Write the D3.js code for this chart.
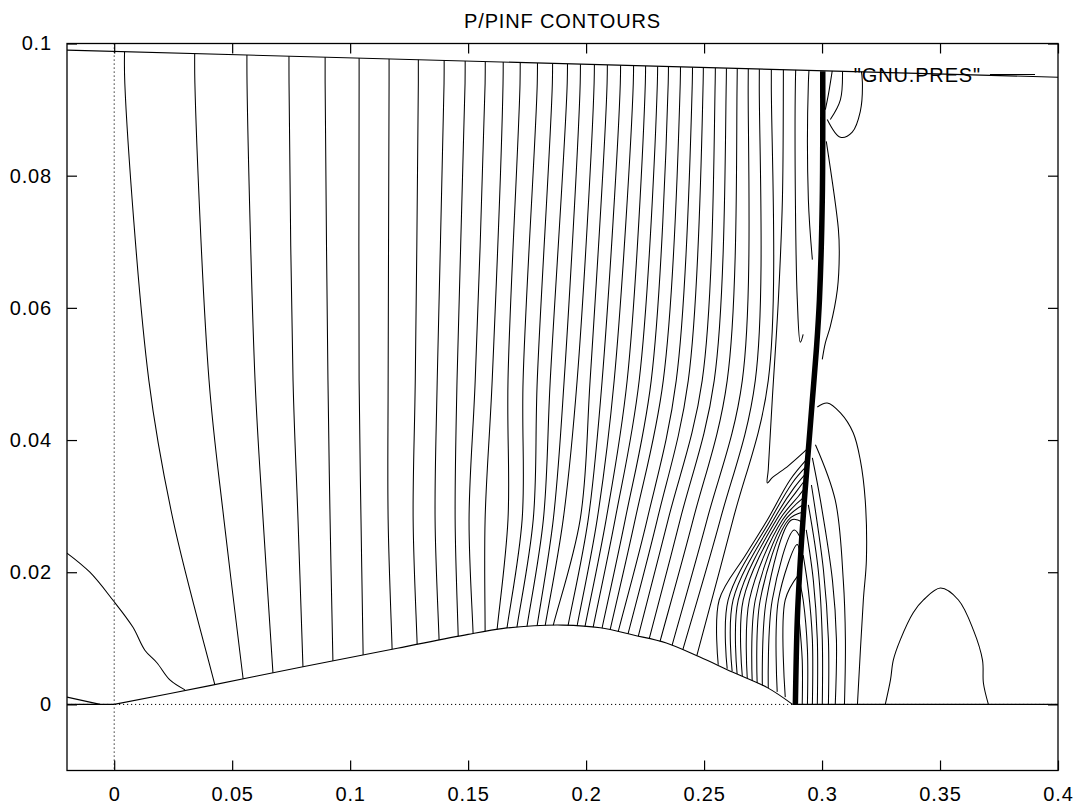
<!DOCTYPE html>
<html><head><meta charset="utf-8">
<script src="https://cdn.jsdelivr.net/npm/d3@7"></script>
<style>body{margin:0;background:#fff}svg{display:block}text{font-family:"Liberation Sans",Arial,sans-serif;fill:#000}</style>
</head><body>
<svg id="c" width="1080" height="808"></svg>
<script>
// ---------- data ----------
const title = "P/PINF CONTOURS";
const seriesName = '"GNU.PRES"';
const xTicks = [0, 0.05, 0.1, 0.15, 0.2, 0.25, 0.3, 0.35, 0.4];
const xTickLabels = ["0", "0.05", "0.1", "0.15", "0.2", "0.25", "0.3", "0.35", "0.4"];
const yTicks = [0, 0.02, 0.04, 0.06, 0.08, 0.1];
const yTickLabels = ["0", "0.02", "0.04", "0.06", "0.08", "0.1"];

// boundaries
const wallX = [-0.02, 0.4];
const wallY = [0.0990, 0.0949];
const bumpX = [0, 0.04, 0.08, 0.12, 0.15, 0.165, 0.178, 0.19, 0.206, 0.22, 0.234, 0.248, 0.262, 0.277, 0.2875];
const bumpY = [0, 0.0028, 0.0057, 0.0085, 0.0106, 0.0115, 0.0119, 0.0120, 0.0116, 0.0105, 0.0093, 0.0072, 0.0049, 0.0025, 0];
const floorLeftX = [-0.02, 0];
const floorRightX = [0.2875, 0.4];

// main contour family: x at y-levels, then end point on the bump
const levelTop = 0.094, levelMid = 0.049, levelLow = 0.028;
const cTop = [0.0045,0.0342,0.0563,0.0741,0.0894,0.1038,0.1165,0.1289,0.1398,0.1487,0.1572,0.1648,0.1720,0.1793,0.1857,0.1920,0.1975,0.2034,0.2089,0.2145,0.2200,0.2251,0.2302,0.2348,0.2399,0.2450,0.2496,0.2547,0.2594,0.2640,0.2687,0.2734,0.2785];
const cMid = [0.0147,0.0402,0.0597,0.0758,0.0906,0.1038,0.1161,0.1276,0.1369,0.1453,0.1530,0.1602,0.1669,0.1733,0.1793,0.1848,0.1907,0.1962,0.2017,0.2068,0.2119,0.2174,0.2225,0.2276,0.2327,0.2382,0.2433,0.2492,0.2543,0.2598,0.2662,0.2717,0.2772];
const cLow = [0.0249,0.0465,0.0631,0.0779,0.0915,0.1046,0.1161,0.1267,0.1360,0.1445,0.1504,0.1572,0.1669,0.1729,0.1776,0.1819,0.1861,0.1903,0.1975,0.2009,0.2047,0.2085,0.2123,0.2166,0.2208,0.2259,0.2302,0.2348,0.2399,0.2454,0.2513,0.2569,0.2623];
const cEndX = [0.0427,0.0546,0.0673,0.0800,0.0927,0.1055,0.1178,0.1284,0.1377,0.1458,0.1521,0.1572,0.1623,0.1665,0.1707,0.1750,0.1793,0.1827,0.1861,0.1924,0.1962,0.1996,0.2030,0.2068,0.2102,0.2136,0.2178,0.2221,0.2268,0.2314,0.2365,0.2411,0.2471];
const cEndY = [0.0029,0.0040,0.0047,0.0057,0.0066,0.0075,0.0082,0.0091,0.0097,0.0103,0.0108,0.0111,0.0114,0.0116,0.0117,0.0119,0.0120,0.0120,0.0120,0.0120,0.0119,0.0119,0.0117,0.0116,0.0113,0.0110,0.0107,0.0103,0.0100,0.0096,0.0090,0.0084,0.0076];

// other contours as [x, y] lists
const leftCurve = [[-0.02,0.0229],[-0.0103,0.0200],[-0.0006,0.0158],[0.0079,0.0117],[0.0130,0.0082],[0.0181,0.0063],[0.0236,0.0037],[0.0300,0.0022]];
const cornerCurve = [[-0.02,0.0011],[-0.0060,0.0]];
const dome = [[0.3268,0],[0.3290,0.0037],[0.3302,0.0067],[0.3332,0.0098],[0.3387,0.0139],[0.3430,0.0158],[0.3502,0.0176],[0.3578,0.0158],[0.3642,0.0112],[0.3680,0.0067],[0.3684,0.0032],[0.3705,0]];
const shock = [[0.3003,0.0958],[0.3001,0.0764],[0.2989,0.0613],[0.2976,0.0537],[0.2959,0.0461],[0.2942,0.0385],[0.2925,0.0309],[0.2908,0.0218],[0.2895,0.0127],[0.2887,0.0]];
const bigLoop = [[0.2980,0.0450],[0.3022,0.0456],[0.3078,0.0441],[0.3132,0.0411],[0.3162,0.0370],[0.3183,0.0309],[0.3188,0.0219],[0.3175,0.0158],[0.3150,0.0]];
const clusterLines = [
 [[0.2560,0.0060],[0.2564,0.0158],[0.2676,0.0226],[0.2768,0.0279],[0.2865,0.0340],[0.2933,0.0370]],
 [[0.2598,0.0054],[0.2602,0.0158],[0.2781,0.0279],[0.2874,0.0335],[0.2933,0.0360]],
 [[0.2619,0.0050],[0.2623,0.0158],[0.2794,0.0279],[0.2882,0.0328],[0.2933,0.0350]],
 [[0.2640,0.0046],[0.2645,0.0158],[0.2806,0.0279],[0.2891,0.0322],[0.2929,0.0340]],
 [[0.2662,0.0043],[0.2666,0.0158],[0.2819,0.0279],[0.2900,0.0315],[0.2929,0.0328]],
 [[0.2683,0.0040],[0.2692,0.0158],[0.2832,0.0279],[0.2925,0.0314]],
 [[0.2704,0.0035],[0.2717,0.0158],[0.2844,0.0279],[0.2920,0.0302]],
 [[0.2725,0.0032],[0.2738,0.0158],[0.2857,0.0279],[0.2920,0.0291]],
 [[0.2747,0.0028],[0.2764,0.0158],[0.2870,0.0279],[0.2916,0.0276]],
 [[0.2772,0.0025],[0.2789,0.0158],[0.2882,0.0264],[0.2912,0.0249]],
 [[0.2810,0.0019],[0.2815,0.0158],[0.2895,0.0242],[0.2908,0.0218]],
 [[0.2844,0.0011],[0.2844,0.0158],[0.2900,0.0196]]
];
const rightLines = [
 [[0.2895,0],[0.2895,0.0037],[0.2891,0.0068]],
 [[0.2916,0],[0.2916,0.0067],[0.2903,0.0128]],
 [[0.2938,0],[0.2938,0.0083],[0.2920,0.0158],[0.2908,0.0181]],
 [[0.2959,0],[0.2959,0.0098],[0.2942,0.0173],[0.2920,0.0226]],
 [[0.2980,0],[0.2980,0.0098],[0.2963,0.0188],[0.2933,0.0264]],
 [[0.3001,0],[0.3001,0.0098],[0.2984,0.0203],[0.2942,0.0302]],
 [[0.3027,0],[0.3027,0.0098],[0.3006,0.0203],[0.2955,0.0332]],
 [[0.3056,0],[0.3061,0.0098],[0.3044,0.0188],[0.2993,0.0309],[0.2959,0.0373]],
 [[0.3095,0],[0.3099,0.0098],[0.3090,0.0188],[0.3056,0.0309],[0.2972,0.0393]]
];
const sideBulge = [[0.3018,0.0852],[0.3069,0.0720],[0.3073,0.0682],[0.3065,0.0628],[0.3035,0.0572],[0.3014,0.0547],[0.3001,0.0522]];
const topLoop = [[0.3022,0.0885],[0.3078,0.0858],[0.3128,0.0866],[0.3162,0.0897],[0.3171,0.0941],[0.3162,0.0970]];
const topLines = [
 [[0.3086,0.0970],[0.3078,0.0915],[0.3035,0.0885]],
 [[0.3048,0.0970],[0.3027,0.0923],[0.3014,0.0900]]
];
const hookLines = [
 [[0.2836,0.0985],[0.2836,0.0940],[0.2832,0.0764],[0.2815,0.0613],[0.2789,0.0461],[0.2772,0.0355],[0.2768,0.0335],[0.2789,0.0343],[0.2857,0.0361],[0.2933,0.0385]],
 [[0.2891,0.0985],[0.2887,0.0940],[0.2887,0.0764],[0.2895,0.0613],[0.2908,0.0548],[0.2920,0.0560]],
 [[0.2950,0.0985],[0.2942,0.0940],[0.2942,0.0764],[0.2959,0.0673]]
];

// ---------- drawing ----------
const L = 67, R = 1058, T = 43.5, B = 770.5;
const svg = d3.select("#c");
const x = d3.scaleLinear().domain([-0.02, 0.4]).range([L, R]);
const y = d3.scaleLinear().domain([-0.01, 0.1]).range([B, T]);
const FS = 20, LS = "0.85px";

// clip region: flow domain
const domainPoly = [];
domainPoly.push([wallX[0], wallY[0]], [wallX[1], wallY[1]], [floorRightX[1], 0], [floorRightX[0], 0]);
for (let i = bumpX.length - 1; i >= 0; i--) domainPoly.push([bumpX[i], bumpY[i]]);
domainPoly.push([floorLeftX[0], 0]);
svg.append("clipPath").attr("id", "dom").append("path")
  .attr("d", "M" + domainPoly.map(p => [x(p[0]), y(p[1])].join(",")).join("L") + "Z");
svg.append("clipPath").attr("id", "plot").append("rect").attr("x", L).attr("y", T).attr("width", R - L).attr("height", B - T);

// dotted zero axes
const gz = svg.append("g").attr("clip-path", "url(#plot)");
gz.append("line").attr("x1", x(0)).attr("x2", x(0)).attr("y1", T).attr("y2", B)
  .attr("stroke", "#000").attr("stroke-width", 1).attr("stroke-dasharray", "1.2,2.8");
gz.append("line").attr("x1", L).attr("x2", R).attr("y1", y(0)).attr("y2", y(0))
  .attr("stroke", "#000").attr("stroke-width", 1).attr("stroke-dasharray", "1.2,2.8");

// axes (ticks inward, mirrored)
const fmtX = d => xTickLabels[xTicks.indexOf(d)];
const fmtY = d => yTickLabels[yTicks.indexOf(d)];
function styleAxis(g) {
  g.select(".domain").remove();
  g.selectAll(".tick line").attr("stroke", "#000").attr("stroke-width", 1.2);
  g.selectAll("text").attr("font-size", FS).attr("font-family", '"Liberation Sans",Arial,sans-serif').attr("letter-spacing", LS).attr("fill", "#000");
}
svg.append("g").attr("transform", `translate(0,${B})`)
  .call(d3.axisBottom(x).tickValues(xTicks).tickFormat(fmtX).tickSize(-10).tickPadding(16)).call(styleAxis);
svg.append("g").attr("transform", `translate(0,${T})`)
  .call(d3.axisTop(x).tickValues(xTicks).tickFormat("").tickSize(-10)).call(styleAxis);
svg.append("g").attr("transform", `translate(${L},0)`)
  .call(d3.axisLeft(y).tickValues(yTicks).tickFormat(fmtY).tickSize(-10).tickPadding(15)).call(styleAxis);
svg.append("g").attr("transform", `translate(${R},0)`)
  .call(d3.axisRight(y).tickValues(yTicks).tickFormat("").tickSize(-10)).call(styleAxis);

// frame
svg.append("rect").attr("x", L).attr("y", T).attr("width", R - L).attr("height", B - T)
  .attr("fill", "none").attr("stroke", "#000").attr("stroke-width", 1.3);

// title
svg.append("text").attr("x", (L + R) / 2).attr("y", 27.5).attr("text-anchor", "middle")
  .attr("font-size", FS).attr("letter-spacing", LS).text(title);

// contour drawing
const line = d3.line().x(d => x(d[0])).y(d => y(d[1])).curve(d3.curveCatmullRom.alpha(0.5));
const lineStraight = d3.line().x(d => x(d[0])).y(d => y(d[1]));
const gc = svg.append("g").attr("clip-path", "url(#dom)")
  .attr("fill", "none").attr("stroke", "#000").attr("stroke-width", 1.05).attr("stroke-linejoin", "round");

const mainLines = cTop.map((t, i) => {
  const low = [cLow[i], levelLow], end = [cEndX[i], cEndY[i]];
  const ext = [end[0] + 0.25 * (end[0] - low[0]), end[1] + 0.25 * (end[1] - low[1])];
  return [[t, 0.1], [t, levelTop], [cMid[i], levelMid], low, end, ext];
});
gc.selectAll("path.main").data(mainLines).join("path").attr("class", "main").attr("d", line);
[leftCurve, dome, bigLoop, sideBulge, topLoop, ...topLines, ...hookLines, ...clusterLines, ...rightLines]
  .forEach(p => gc.append("path").attr("d", line(p)));
gc.append("path").attr("d", line(shock)).attr("stroke-width", 5.5);

// boundaries (solid)
const gb = svg.append("g").attr("fill", "none").attr("stroke", "#000").attr("stroke-width", 1.1).attr("clip-path", "url(#plot)");
gb.append("path").attr("d", lineStraight(wallX.map((v, i) => [v, wallY[i]])));
gb.append("path").attr("d", line(bumpX.map((v, i) => [v, bumpY[i]])));
gb.append("path").attr("d", lineStraight(floorLeftX.map(v => [v, 0])));
gb.append("path").attr("d", lineStraight(floorRightX.map(v => [v, 0])));
gb.append("path").attr("d", lineStraight(cornerCurve));

// key
const keyY = 74.5;
svg.append("text").attr("x", 981).attr("y", keyY).attr("dy", "0.35em").attr("text-anchor", "end")
  .attr("font-size", FS).attr("letter-spacing", LS).text(seriesName);
svg.append("line").attr("x1", 990).attr("x2", 1035).attr("y1", keyY).attr("y2", keyY)
  .attr("stroke", "#000").attr("stroke-width", 1.1);
</script>
</body></html>
